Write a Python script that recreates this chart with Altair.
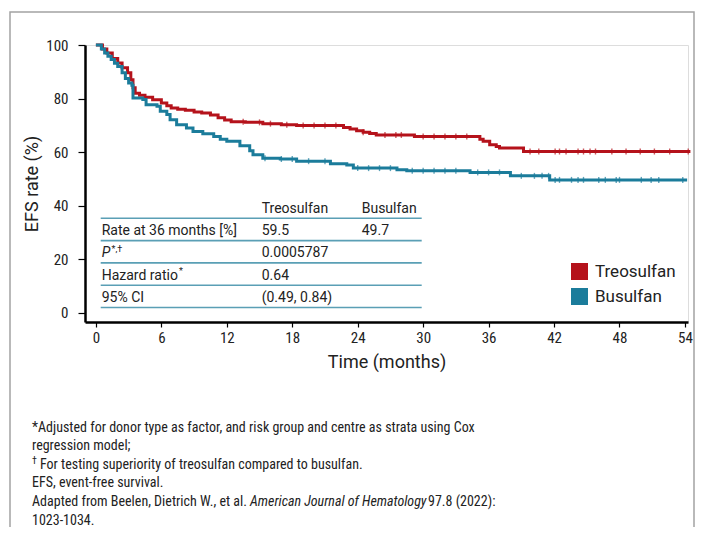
import altair as alt
import pandas as pd

# ---------------- data ----------------
series = ["Treosulfan", "Busulfan"]
colors = ["#B5121B", "#1B7C9B"]

treo_t = [0, 0.6, 1.0, 1.5, 2.0, 2.4, 2.9, 3.2, 3.4, 3.6, 4.0, 4.5, 5.2, 6.0, 6.5, 6.9, 7.5, 8.2,
          9.0, 9.7, 10.5, 11.2, 11.8, 12.4, 13.7, 15.3, 17.0, 18.4, 22.7, 23.3, 23.9, 24.5, 25.1,
          25.7, 29.2, 35.2, 35.5, 36.1, 36.7, 37.0, 39.2, 54.5]
treo_s = [100, 98.5, 97, 95, 93.3, 91.5, 89.6, 87, 84, 82, 81.2, 80.5, 79.5, 78.3, 77.3, 76.5, 76,
          75.6, 75, 74.6, 73.8, 72.8, 72, 71.3, 71.1, 70.6, 70.2, 69.9, 69.2, 68.6, 68.0, 67.4, 66.9,
          66.4, 65.8, 64.8, 64.0, 62.7, 62.1, 61.5, 60.2, 60.2]

busu_t = [0, 0.5, 0.8, 1.1, 1.4, 1.7, 2.0, 2.4, 2.7, 3.0, 3.3, 3.4, 4.3, 4.6, 5.6, 5.9, 6.5, 6.8,
          7.4, 8.3, 8.9, 9.8, 10.8, 11.4, 12.0, 13.2, 14.1, 14.4, 15.3, 16.9, 18.4, 21.5, 23.0,
          23.6, 27.6, 28.5, 34.3, 38.0, 41.6, 54.2]
busu_s = [100, 98.5, 97, 95.8, 94.6, 93.2, 92, 89.6, 87.5, 85.8, 85, 80.2, 79.6, 77.7, 77.1, 75.2,
          74, 72.1, 70.2, 69, 67.7, 66.8, 65.8, 64.8, 64, 62.4, 60.5, 59, 57.7, 57.4, 56.6, 55.6,
          55.2, 54.0, 53.4, 53.0, 52.4, 51.1, 49.6, 49.6]

treo_cens = [13.5, 15, 16, 17.5, 19, 20, 21, 22, 24.5, 26.5, 27.5, 28, 30, 31, 32, 33, 34,
             39.8, 40.6, 42.1, 42.5, 43.1, 44.2, 44.7, 45.3, 45.8, 47.3, 48.6, 49.9, 51.2, 52.6, 54.3]
busu_cens = [15.5, 17, 18, 19.5, 21, 24, 25, 26, 27, 29, 30, 31, 32, 33, 35, 36, 37,
             39.0, 40.2, 40.9, 41.5, 42.1, 42.5, 43.6, 44.2, 44.7, 46.1, 46.7, 47.7, 48.0, 50.0,
             50.9, 51.6, 53.8]

x_ticks = [0, 6, 12, 18, 24, 30, 36, 42, 48, 54]
y_ticks = [0, 20, 40, 60, 80, 100]

table_header = ["", "Treosulfan", "Busulfan"]
table_rows = [
    ["Rate at 36 months [%]", "59.5", "49.7"],
    ["P", "0.0005787", ""],
    ["Hazard ratio", "0.64", ""],
    ["95% CI", "(0.49, 0.84)", ""],
]

footnotes = [
    "*Adjusted for donor type as factor, and risk group and centre as strata using Cox",
    "regression model;",
    "For testing superiority of treosulfan compared to busulfan.",
    "EFS, event-free survival.",
    "Adapted from Beelen, Dietrich W., et al.",
    "1023-1034.",
]
journal = "American Journal of Hematology"
journal_tail = "97.8 (2022):"

# ---------------- helpers ----------------
def step_at(ts, ss, t):
    v = ss[0]
    for ti, si in zip(ts, ss):
        if ti <= t:
            v = si
    return v

curves = pd.concat([
    pd.DataFrame({"t": treo_t, "s": treo_s, "group": series[0], "o": range(len(treo_t))}),
    pd.DataFrame({"t": busu_t, "s": busu_s, "group": series[1], "o": range(len(busu_t))}),
])
cens = pd.concat([
    pd.DataFrame({"t": treo_cens, "s": [step_at(treo_t, treo_s, c) for c in treo_cens], "group": series[0]}),
    pd.DataFrame({"t": busu_cens, "s": [step_at(busu_t, busu_s, c) for c in busu_cens], "group": series[1]}),
])

FONT = "Roboto"
NARROW = "Liberation Sans Narrow, Roboto Condensed, DejaVu Sans Condensed, Roboto"
TXT = "#222222"
FN_SIZE = 14

xscale = alt.Scale(domain=[-1, 54.28], nice=False, zero=False)
yscale = alt.Scale(domain=[-3.5, 100], nice=False, zero=False)
cscale = alt.Scale(domain=series, range=colors)

base = alt.Chart(curves)

lines = base.mark_line(interpolate="step-after", strokeWidth=3, clip=False).encode(
    x=alt.X("t:Q", scale=xscale,
            axis=alt.Axis(values=x_ticks, title="Time (months)", format="d", grid=False,
                          domainColor="black", domainWidth=2.5, tickColor="black", tickWidth=1.2,
                          tickSize=5, labelPadding=3, labelFontSize=15, labelFont=NARROW,
                          labelColor=TXT, titleFontSize=18, titleFont=FONT, titleFontWeight="normal",
                          titleColor=TXT, titlePadding=8)),
    y=alt.Y("s:Q", scale=yscale,
            axis=alt.Axis(values=y_ticks, title="EFS rate (%)", format="d", grid=False,
                          domainColor="black", domainWidth=2.5, tickColor="black", tickWidth=1.2,
                          tickSize=7, labelPadding=10, labelFontSize=15, labelFont=NARROW,
                          labelColor=TXT, titleFontSize=18, titleFont=FONT, titleFontWeight="normal",
                          titleColor=TXT, titlePadding=4)),
    color=alt.Color("group:N", scale=cscale, legend=None),
    order="o:Q",
)

censor = alt.Chart(cens).mark_tick(orient="vertical", size=6, thickness=1.4).encode(
    x=alt.X("t:Q", scale=xscale),
    y=alt.Y("s:Q", scale=yscale),
    color=alt.Color("group:N", scale=cscale, legend=None),
)

# ---------------- table ----------------
rule_y = [173.3 + i * 22.3 for i in range(5)]
rules_df = pd.DataFrame({"py": rule_y, "x1": 15.7, "x2": 336.7})
table_rules = alt.Chart(rules_df).mark_rule(color="#5a9fb5", strokeWidth=1.6).encode(
    y=alt.Y("py:Q", scale=None), x=alt.X("x1:Q", scale=None), x2="x2:Q")

col_x = [16.7, 176.7, 276.7]
cells = []
for ci, txt in enumerate(table_header):
    if txt:
        cells.append({"text": txt, "px": col_x[ci], "py": rule_y[0] - 5.5, "it": "normal"})
for ri, row in enumerate(table_rows):
    for ci, txt in enumerate(row):
        if txt:
            cells.append({"text": txt, "px": col_x[ci], "py": rule_y[ri + 1] - 5.5,
                          "it": "italic" if (ri == 1 and ci == 0) else "normal"})
cells_df = pd.DataFrame(cells)
table_text_n = alt.Chart(cells_df).transform_filter("datum.it == 'normal'").mark_text(
    align="left", baseline="alphabetic", font=FONT, fontSize=14, color=TXT).encode(
    x=alt.X("px:Q", scale=None), y=alt.Y("py:Q", scale=None), text="text:N")
table_text_i = alt.Chart(cells_df).transform_filter("datum.it == 'italic'").mark_text(
    align="left", baseline="alphabetic", font=FONT, fontSize=14, fontStyle="italic", color=TXT).encode(
    x=alt.X("px:Q", scale=None), y=alt.Y("py:Q", scale=None), text="text:N")

sup_df = pd.DataFrame({"text": ["*,†", "*"], "px": [26.5, 94.0],
                       "py": [rule_y[2] - 11, rule_y[3] - 11]})
table_sup = alt.Chart(sup_df).mark_text(align="left", baseline="alphabetic", font=FONT,
                                        fontSize=9, color=TXT).encode(
    x=alt.X("px:Q", scale=None), y=alt.Y("py:Q", scale=None), text="text:N")

# ---------------- legend ----------------
leg_df = pd.DataFrame({"group": series, "py": [226.5, 251.5], "px": 494.5, "lx": 510.0})
leg_sq = alt.Chart(leg_df).mark_square(size=289, opacity=1, cornerRadius=2).encode(
    x=alt.X("px:Q", scale=None), y=alt.Y("py:Q", scale=None),
    fill=alt.Fill("group:N", scale=cscale, legend=None))
leg_tx = alt.Chart(leg_df).mark_text(align="left", baseline="middle", font=FONT, fontSize=17,
                                     color=TXT).encode(
    x=alt.X("lx:Q", scale=None), y=alt.Y("py:Q", scale=None), text="group:N")

# ---------------- frame ----------------
frame_df = pd.DataFrame({"x1": [-75.0], "x2": [609.0], "y1": [-33.0], "y2": [600.0]})
frame = alt.Chart(frame_df).mark_rect(fill=None, fillOpacity=0, stroke="#a3a3a3", strokeWidth=1.5,
                                      clip=False).encode(
    x=alt.X("x1:Q", scale=None), x2="x2:Q", y=alt.Y("y1:Q", scale=None), y2="y2:Q")

# ---------------- footnotes ----------------
fn_y = [382.5 + 18.6 * i for i in range(6)]
fn_x = [-53, -53, -45, -53, -53, -53]
fn_df = pd.DataFrame({"text": footnotes, "px": fn_x, "py": fn_y})
fn_text = alt.Chart(fn_df).mark_text(align="left", baseline="middle", font=NARROW, fontSize=FN_SIZE,
                                     color=TXT).encode(
    x=alt.X("px:Q", scale=None), y=alt.Y("py:Q", scale=None), text="text:N")
fn_extra_df = pd.DataFrame({"text": [journal, journal_tail], "px": [165.0, 343.0],
                            "py": [fn_y[4], fn_y[4]], "it": ["italic", "normal"]})
fn_ital = alt.Chart(fn_extra_df).transform_filter("datum.it == 'italic'").mark_text(
    align="left", baseline="middle", font=NARROW, fontSize=FN_SIZE, fontStyle="italic", color=TXT).encode(
    x=alt.X("px:Q", scale=None), y=alt.Y("py:Q", scale=None), text="text:N")
fn_tail = alt.Chart(fn_extra_df).transform_filter("datum.it == 'normal'").mark_text(
    align="left", baseline="middle", font=NARROW, fontSize=FN_SIZE, color=TXT).encode(
    x=alt.X("px:Q", scale=None), y=alt.Y("py:Q", scale=None), text="text:N")
dag_df = pd.DataFrame({"text": ["†"], "px": [-53.0], "py": [fn_y[2] - 4]})
fn_dag = alt.Chart(dag_df).mark_text(align="left", baseline="middle", font=NARROW, fontSize=10,
                                     color=TXT).encode(
    x=alt.X("px:Q", scale=None), y=alt.Y("py:Q", scale=None), text="text:N")

chart = alt.layer(
    frame, lines, censor, table_rules, table_text_n, table_text_i, table_sup,
    leg_sq, leg_tx, fn_text, fn_ital, fn_tail, fn_dag,
).properties(
    width=603, height=277,
    autosize=alt.AutoSizeParams(type="none"),
    padding={"left": 77, "top": 37, "right": 8, "bottom": 205},
).configure_view(stroke=None).configure(background="white")

chart.save("out.html", embed_options={"renderer": "svg", "actions": False})
